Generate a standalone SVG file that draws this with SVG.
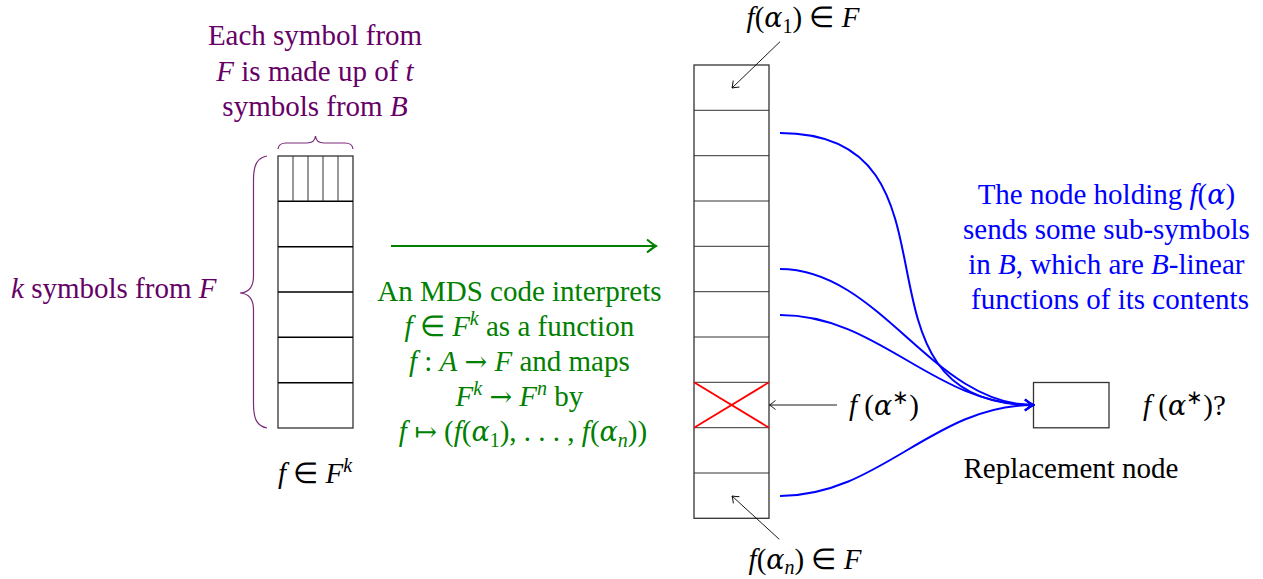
<svg xmlns="http://www.w3.org/2000/svg" width="1263" height="579" viewBox="0 0 1263 579">
<style>
.t{font-family:"Liberation Serif","Times New Roman",serif;font-size:29px;}
.i{font-style:italic;}
.al{font-family:"DejaVu Serif",serif;font-style:italic;font-size:27px;}
.ar{font-family:"DejaVu Serif",serif;font-size:27px;}
.sub{font-size:20px;}
.pu{fill:#660066;}
.gr{fill:#008000;}
.bl{fill:#0000ff;}
.blk{fill:#000;}
.box{fill:#fff;stroke:#333;stroke-width:1.3;}
.row{stroke:#000;stroke-width:1.6;fill:none;}
.rowthin{stroke:#333;stroke-width:1;fill:none;}
.brace{fill:none;stroke:#7a2a7a;stroke-width:1.2;}
.thin{fill:none;stroke:#000;stroke-width:0.9;}
.cur{fill:none;stroke:#0000ff;stroke-width:2;}
</style>
<defs>
<marker id="ak" viewBox="-8 -6 10 12" markerWidth="10" markerHeight="12" refX="0" refY="0" orient="auto" markerUnits="userSpaceOnUse">
<path d="M-6,-4.5 Q-2,-1.2 0,0 Q-2,1.2 -6,4.5" fill="none" stroke="#000" stroke-width="0.9"/>
</marker>
<marker id="ag" viewBox="-11 -8 13 16" markerWidth="13" markerHeight="16" refX="0" refY="0" orient="auto" markerUnits="userSpaceOnUse">
<path d="M-9,-6.5 Q-3,-1.6 0,0 Q-3,1.6 -9,6.5" fill="none" stroke="#008000" stroke-width="2"/>
</marker>
<marker id="ab" viewBox="-11 -8 13 16" markerWidth="13" markerHeight="16" refX="0" refY="0" orient="auto" markerUnits="userSpaceOnUse">
<path d="M-8,-5.5 Q-3,-1.4 0,0 Q-3,1.4 -8,5.5" fill="none" stroke="#0000ff" stroke-width="2"/>
</marker>
</defs>
<rect width="1263" height="579" fill="#fff"/>

<g id="message-column">
<rect class="box" x="278" y="156" width="75" height="272"/>
<path class="row" d="M278,201.3H353M278,246.7H353M278,292H353M278,337.3H353M278,382.7H353"/>
<path class="rowthin" d="M293,156V201.3M308,156V201.3M323,156V201.3M338,156V201.3"/>
<text class="t blk" x="315" y="483" text-anchor="middle"><tspan class="i">f</tspan> ∈ <tspan class="i">F</tspan><tspan class="i sub" dy="-11">k</tspan></text>
</g>

<g id="top-brace">
<path class="brace" d="M278,149 C278.5,144.5 281,143 286,143 L307,143 C312,143 315,141 315.5,136 C316,141 319,143 324,143 L345,143 C350,143 352.5,144.5 353,149"/>
<text class="t pu" text-anchor="middle"><tspan x="315" y="45">Each symbol from</tspan><tspan x="315" y="81"><tspan class="i">F</tspan> is made up of <tspan class="i">t</tspan></tspan><tspan x="315" y="116">symbols from <tspan class="i">B</tspan></tspan></text>
</g>

<g id="left-brace">
<path class="brace" d="M267,156 C257,158 253.5,165 253.5,180 L253.5,276 C253.5,287 249,292.5 240,293 C249,293.5 253.5,299 253.5,310 L253.5,404 C253.5,419 257,426 267,428"/>
<text class="t pu" x="11" y="298"><tspan class="i">k</tspan> symbols from <tspan class="i">F</tspan></text>
</g>

<g id="encode">
<line x1="391" y1="246" x2="656" y2="246" stroke="#008000" stroke-width="2" marker-end="url(#ag)"/>
<text class="t gr" text-anchor="middle">
<tspan x="523" y="301">An MDS code interprets</tspan>
<tspan x="523" y="336"><tspan class="i">f</tspan> ∈ <tspan class="i">F</tspan><tspan class="i sub" dy="-11">k</tspan><tspan dy="11"> as a function</tspan></tspan>
<tspan x="523" y="371"><tspan class="i">f</tspan> : <tspan class="i">A</tspan> <tspan class="ar">→</tspan> <tspan class="i">F</tspan> and maps</tspan>
<tspan x="523" y="406"><tspan class="i">F</tspan><tspan class="i sub" dy="-11">k</tspan><tspan dy="11"> </tspan><tspan class="ar">→</tspan> <tspan class="i">F</tspan><tspan class="i sub" dy="-11">n</tspan><tspan dy="11"> by</tspan></tspan>
<tspan x="523" y="441"><tspan class="i">f</tspan> <tspan class="ar">↦</tspan> (<tspan class="i">f</tspan>(<tspan class="al">α</tspan><tspan class="sub" dy="6">1</tspan><tspan dy="-6">), . . . , </tspan><tspan class="i">f</tspan>(<tspan class="al">α</tspan><tspan class="i sub" dy="6">n</tspan><tspan dy="-6">))</tspan></tspan>
</text>
</g>

<g id="codeword-column">
<rect class="box" x="694" y="65" width="75" height="453.3"/>
<path class="rowthin" d="M694,110.3H769M694,155.7H769M694,201H769M694,246.3H769M694,291.7H769M694,337H769M694,382.3H769M694,427.7H769M694,473H769"/>
<path d="M694,382.3L769,427.7M694,427.7L769,382.3" stroke="#ff0000" stroke-width="1.8" fill="none"/>
</g>

<g id="label-alpha1">
<text class="t blk" x="803" y="27" text-anchor="middle"><tspan class="i">f</tspan>(<tspan class="al">α</tspan><tspan class="sub" dy="6">1</tspan><tspan dy="-6">) ∈ </tspan><tspan class="i">F</tspan></text>
</g>
<g id="label-alphan">
<text class="t blk" x="805" y="569" text-anchor="middle"><tspan class="i">f</tspan>(<tspan class="al">α</tspan><tspan class="i sub" dy="5">n</tspan><tspan dy="-5">) ∈ </tspan><tspan class="i">F</tspan></text>
</g>
<g id="label-alphastar">
<text class="t blk" x="849" y="415"><tspan class="i">f</tspan> (<tspan class="al">α</tspan><tspan class="sub" dy="-11">∗</tspan><tspan dy="11">)</tspan></text>
</g>

<g id="replacement-node">
<rect class="box" x="1033.5" y="382.5" width="75.5" height="45.3"/>
<text class="t blk" x="1143" y="415"><tspan class="i">f</tspan> (<tspan class="al">α</tspan><tspan class="sub" dy="-11">∗</tspan><tspan dy="11">)?</tspan></text>
<text class="t blk" x="1071" y="478" text-anchor="middle">Replacement node</text>
</g>

<g id="helper-note">
<text class="t bl" text-anchor="middle">
<tspan x="1110" y="204">The node holding <tspan class="i">f</tspan>(<tspan class="al">α</tspan>)</tspan>
<tspan x="1110" y="239">sends some sub-symbols</tspan>
<tspan x="1110" y="274">in <tspan class="i">B</tspan>, which are <tspan class="i">B</tspan>-linear</tspan>
<tspan x="1110" y="309">functions of its contents</tspan>
</text>
</g>

<g id="connectors">
<line class="thin" x1="780" y1="41.7" x2="732" y2="88" marker-end="url(#ak)"/>
<line class="thin" x1="779.3" y1="539.3" x2="732" y2="496" marker-end="url(#ak)"/>
<line class="thin" x1="837" y1="405" x2="769.5" y2="405" marker-end="url(#ak)"/>
<path class="cur" d="M780,133 C980,133 833,405 1033,405" marker-end="url(#ab)"/>
<path class="cur" d="M780,269 C880,269 933,405 1033,405" marker-end="url(#ab)"/>
<path class="cur" d="M780,315 C880,315 933,405 1033,405" marker-end="url(#ab)"/>
<path class="cur" d="M780,496 C880,496 933,405 1033,405" marker-end="url(#ab)"/>
</g>
</svg>
